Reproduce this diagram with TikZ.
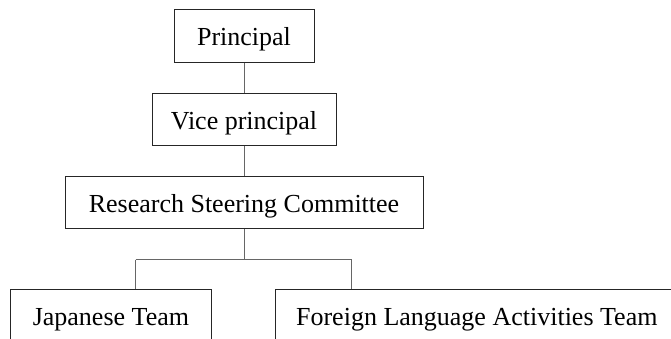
\documentclass[tikz,border=0pt]{standalone}
\usepackage{fontspec}
\setmainfont{Liberation Serif}
\usepackage{tikz}

\begin{document}
\begin{tikzpicture}[x=0.75pt,y=0.75pt,yscale=-1,xscale=1,
  box/.style={draw=black!85,line width=0.75pt,fill=white,minimum height=39.5pt,inner sep=0pt,text height=15pt,text depth=0.75pt,font=\fontsize{19.5pt}{23pt}\selectfont},
  link/.style={draw=black!60,line width=0.75pt}]
\useasboundingbox (0,0) rectangle (671,339);
\clip (0,0) rectangle (671,339);

% Boxes
\node [box,minimum width=105pt] (prin) at (244,36) {Principal};
\node [box,minimum width=138pt] (vice) at (244,119.5) {Vice principal};
\node [box,minimum width=268.5pt] (rsc) at (244,202.5) {Research Steering Committee};
\node [box,minimum width=150.3pt] (jpn) at (110.9,315.8) {Japanese Team};
\node [box,minimum width=302pt] (fla) at (476.8,315.8) {Foreign Language Activities Team};

% branch points
\coordinate (jsplit) at (135.7,259.5);
\coordinate (fsplit) at (351.7,259.5);

% Connectors
\draw [link] (prin) -- (vice);
\draw [link] (vice) -- (rsc);
\draw [link] (rsc.south) -- (rsc.south |- jsplit);
\draw [link] (jsplit) -- (fsplit);
\draw [link] (jsplit) -- (jsplit |- jpn.north);
\draw [link] (fsplit) -- (fsplit |- fla.north);

\end{tikzpicture}
\end{document}
